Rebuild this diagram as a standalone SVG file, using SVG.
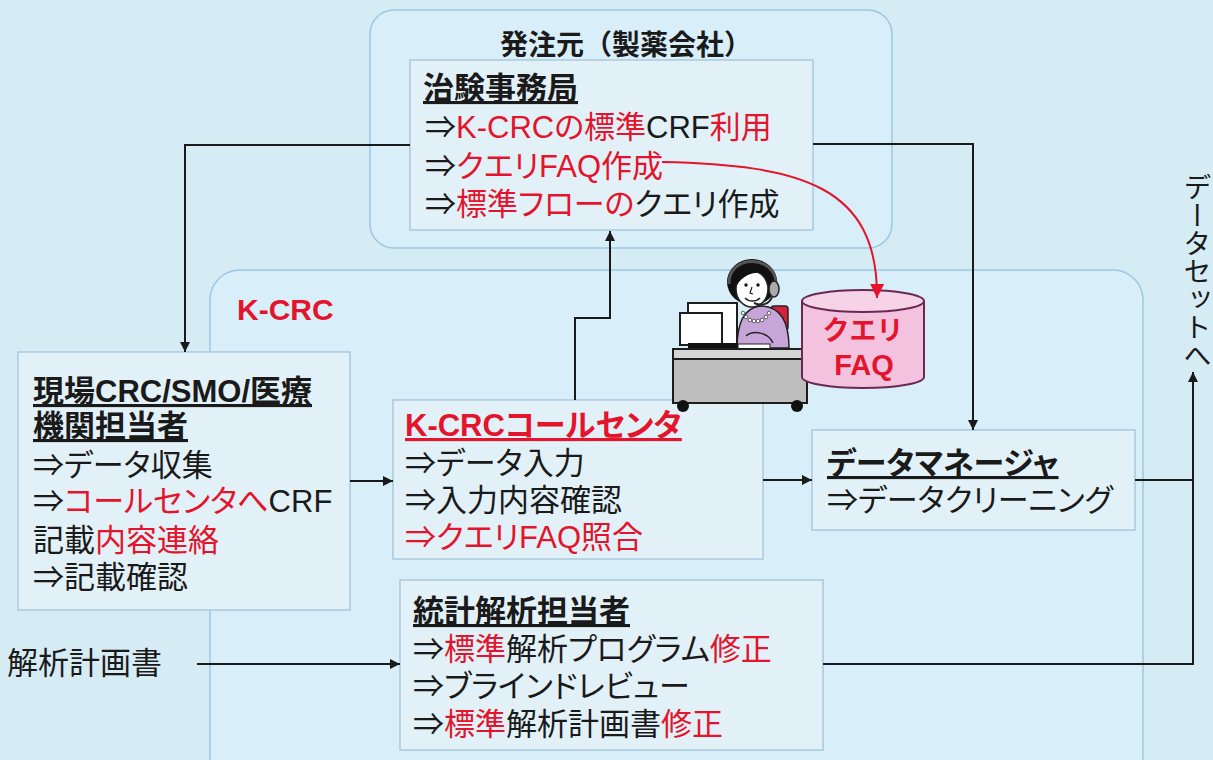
<svg xmlns="http://www.w3.org/2000/svg" width="1213" height="760" viewBox="0 0 1213 760">
  <defs>
    <style>
      .t { font-family: "Liberation Sans", "Noto Sans CJK JP", sans-serif; font-size: 31px; fill: #1a1a1a; font-feature-settings: "palt"; }
      .b { font-weight: bold; }
      .u { text-decoration: underline; }
      .r { fill: #e3142c; }
      .box { fill: #e2f1f7; stroke: #a9c9de; stroke-width: 1.5; }
      .group { fill: #d8eef8; stroke: #9cc7e4; stroke-width: 1.5; }
      .wire { fill: none; stroke: #1a1a1a; stroke-width: 2; }
      .ol { stroke: #1e1e1e; stroke-width: 2; }
    </style>
    <marker id="ah" viewBox="0 0 10 10" refX="10" refY="5" markerWidth="10" markerHeight="10" markerUnits="userSpaceOnUse" orient="auto">
      <path d="M0,0 L10,5 L0,10 Z" fill="#1a1a1a"/>
    </marker>
    <marker id="ahr" viewBox="0 0 10 10" refX="10" refY="5" markerWidth="14" markerHeight="14" markerUnits="userSpaceOnUse" orient="auto">
      <path d="M0,0 L10,5 L0,10 Z" fill="#e3142c"/>
    </marker>
  </defs>

  <rect x="0" y="0" width="1213" height="760" fill="#d6ecf5"/>

  <!-- sponsor group -->
  <g id="sponsor">
    <rect class="group" x="370" y="10" width="522" height="238" rx="24"/>
    <text class="t b" x="500" y="55" style="font-size:28px; font-feature-settings: normal;">発注元（製薬会社）</text>
  </g>

  <!-- K-CRC group -->
  <g id="kcrc">
    <rect class="group" x="210" y="270" width="933" height="520" rx="30"/>
    <text class="r" x="237" y="320" style="font-family:'Liberation Sans',sans-serif; font-weight:bold; font-size:30px;">K-CRC</text>
  </g>

  <!-- trial office -->
  <g id="trial-office">
    <rect class="box" x="410" y="60" width="403" height="170"/>
    <text class="t b u" x="423" y="99">治験事務局</text>
    <text class="t" x="425" y="138">⇒<tspan class="r">K-CRCの標準</tspan>CRF<tspan class="r">利用</tspan></text>
    <text class="t" x="425" y="177">⇒<tspan class="r">クエリFAQ作成</tspan></text>
    <text class="t" x="425" y="215">⇒<tspan class="r">標準フローの</tspan>クエリ作成</text>
  </g>

  <!-- site staff -->
  <g id="site-staff">
    <rect class="box" x="18" y="352" width="332" height="258"/>
    <text class="t b u" x="33" y="402">現場CRC/SMO/医療</text>
    <text class="t b u" x="33" y="437">機関担当者</text>
    <text class="t" x="33" y="476">⇒データ収集</text>
    <text class="t" x="33" y="512">⇒<tspan class="r">コールセンタへ</tspan>CRF</text>
    <text class="t" x="33" y="551">記載<tspan class="r">内容連絡</tspan></text>
    <text class="t" x="33" y="588">⇒記載確認</text>
  </g>

  <!-- call center -->
  <g id="call-center">
    <rect class="box" x="393" y="400" width="370" height="159"/>
    <text class="t b u r" x="405" y="436">K-CRCコールセンタ</text>
    <text class="t" x="405" y="474">⇒データ入力</text>
    <text class="t" x="405" y="511">⇒入力内容確認</text>
    <text class="t r" x="405" y="548">⇒クエリFAQ照合</text>
  </g>

  <!-- operator at desk -->
  <g id="operator">
    <rect x="771" y="306" width="17" height="24" rx="3" fill="#d8203a" stroke="#222" stroke-width="1.5"/>
    <path d="M737,348 C737,322 745,308 760,306 C778,306 789,318 789,348 Z" fill="#c7a5d8" stroke="#222" stroke-width="1.5"/>
    <path d="M746,336 C753,330 768,332 773,343" fill="none" stroke="#222" stroke-width="1.5"/>
    <g fill="#fff" stroke="#444" stroke-width="0.8">
      <circle cx="743" cy="313" r="1.8"/><circle cx="746" cy="317" r="1.8"/><circle cx="750" cy="320" r="1.8"/>
      <circle cx="754" cy="321" r="1.8"/><circle cx="758" cy="321" r="1.8"/><circle cx="762" cy="320" r="1.8"/>
      <circle cx="766" cy="317" r="1.8"/><circle cx="769" cy="313" r="1.8"/>
    </g>
    <ellipse cx="752" cy="282" rx="25" ry="23" fill="#111"/>
    <ellipse cx="752" cy="289" rx="16" ry="18" fill="#fff" stroke="#222" stroke-width="1.5"/>
    <path d="M735,282 C738,268 752,264 768,276 C760,270 745,272 737,285 Z" fill="#111"/>
    <circle cx="746" cy="285" r="1.7" fill="#111"/>
    <circle cx="758" cy="285" r="1.7" fill="#111"/>
    <path d="M752,287 L750,293 L753,294" fill="none" stroke="#222" stroke-width="1.2"/>
    <path d="M745,298 C749,302 756,302 760,298" fill="none" stroke="#222" stroke-width="1.5"/>
    <path d="M729,284 C728,254 776,254 776,284" fill="none" stroke="#555" stroke-width="3"/>
    <ellipse cx="774" cy="289" rx="5" ry="8" fill="#aaa" stroke="#222" stroke-width="1.5"/>
    <path d="M772,297 C769,305 761,306 754,303" fill="none" stroke="#222" stroke-width="2"/>
    <rect x="688" y="303" width="49" height="42" fill="#fff" class="ol"/>
    <rect x="680" y="313" width="42" height="32" fill="#fff" class="ol"/>
    <rect x="688" y="343" width="50" height="6" fill="#111"/>
    <rect x="738" y="344" width="32" height="5" fill="#fff" stroke="#222" stroke-width="1"/>
    <rect x="673" y="349" width="134" height="10" fill="#d4d4d4" class="ol"/>
    <rect x="673" y="359" width="134" height="44" fill="#bebebe" class="ol"/>
    <circle cx="683" cy="406" r="6" fill="#111"/>
    <circle cx="797" cy="406" r="6" fill="#111"/>
  </g>

  <!-- query FAQ store -->
  <g id="query-faq">
    <path d="M802,301 L802,377 A61,11 0 0 0 924,377 L924,301" fill="#f3c2de" stroke="#6b2850" stroke-width="2"/>
    <ellipse cx="863" cy="301" rx="61" ry="11" fill="#f6d3e7" stroke="#6b2850" stroke-width="2"/>
    <text x="863" y="340" text-anchor="middle" class="r" style="font-family:'Noto Sans CJK JP',sans-serif; font-weight:bold; font-size:27px;">クエリ</text>
    <text x="864" y="375" text-anchor="middle" class="r" style="font-family:'Liberation Sans',sans-serif; font-weight:bold; font-size:29px;">FAQ</text>
  </g>

  <!-- data manager -->
  <g id="data-manager">
    <rect class="box" x="812" y="430" width="323" height="100"/>
    <text class="t b u" x="827" y="474">データマネージャ</text>
    <text class="t" x="827" y="511">⇒データクリーニング</text>
  </g>

  <!-- statistician -->
  <g id="statistician">
    <rect class="box" x="400" y="580" width="423" height="170"/>
    <text class="t b u" x="413" y="622">統計解析担当者</text>
    <text class="t" x="413" y="660">⇒<tspan class="r">標準</tspan>解析プログラム<tspan class="r">修正</tspan></text>
    <text class="t" x="413" y="697">⇒ブラインドレビュー</text>
    <text class="t" x="413" y="735">⇒<tspan class="r">標準</tspan>解析計画書<tspan class="r">修正</tspan></text>
  </g>

  <!-- analysis plan input -->
  <g id="analysis-plan">
    <text class="t" x="7" y="674">解析計画書</text>
  </g>

  <!-- dataset output -->
  <g id="dataset">
    <text class="t" x="1195" y="173" style="writing-mode: vertical-rl; font-size:28px; font-feature-settings: normal;">データセットへ</text>
  </g>

  <!-- connectors, drawn last so they sit above the boxes -->
  <g id="connectors">
    <polyline class="wire" points="410,145 185,145 185,352" marker-end="url(#ah)"/>
    <polyline class="wire" points="813,144 973,144 973,430" marker-end="url(#ah)"/>
    <polyline class="wire" points="575,400 575,318 610,318 610,231" marker-end="url(#ah)"/>
    <line class="wire" x1="350" y1="481" x2="393" y2="481" marker-end="url(#ah)"/>
    <line class="wire" x1="763" y1="480" x2="812" y2="480" marker-end="url(#ah)"/>
    <line class="wire" x1="197" y1="664" x2="400" y2="664" marker-end="url(#ah)"/>
    <polyline class="wire" points="1135,480 1193,480"/>
    <polyline class="wire" points="823,664 1193,664 1193,372" marker-end="url(#ah)"/>
    <path d="M662,162 C800,165 878,185 877,298" fill="none" stroke="#e3142c" stroke-width="2" marker-end="url(#ahr)"/>
  </g>
</svg>
